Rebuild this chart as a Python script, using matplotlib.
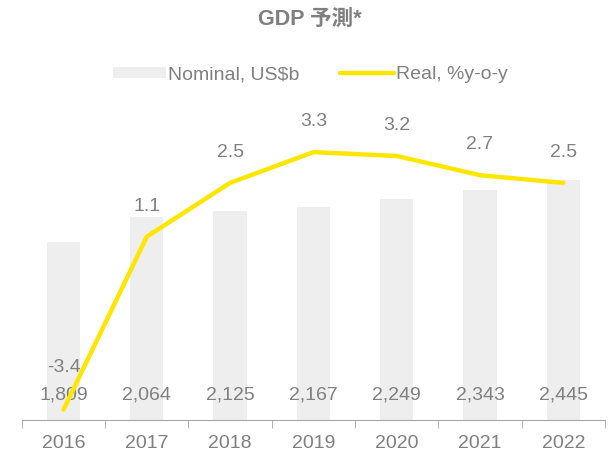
import matplotlib
matplotlib.use("Agg")
import matplotlib.pyplot as plt
import numpy as np

years = ["2016", "2017", "2018", "2019", "2020", "2021", "2022"]
nominal = [1809, 2064, 2125, 2167, 2249, 2343, 2445]
real = [-3.4, 1.1, 2.5, 3.3, 3.2, 2.7, 2.5]

grey_txt = "#808080"
bar_col = "#EEEEEE"
yellow = "#FFE600"

plt.rcParams["font.family"] = ["Liberation Sans", "Noto Sans CJK JP", "DejaVu Sans"]

fig = plt.figure(figsize=(6.08, 4.54), dpi=100)
ax = fig.add_axes([0.036, 0.075, 0.959, 0.705])
x = np.arange(len(years))

ax.bar(x, nominal, width=0.4, color=bar_col, zorder=1, label="Nominal, US$b")
ax.set_ylim(0, 3255)
ax.set_xlim(-0.5, len(years) - 0.5)
for xi, v in zip(x, nominal):
    ax.text(xi, 250, f"{v:,}", ha="center", va="center", fontsize=14, color=grey_txt, zorder=2)

# real growth on its own scale
ax2 = ax.twinx()
ax2.plot(x, real, color=yellow, lw=3.2, solid_capstyle="round", zorder=3, label="Real, %y-o-y")
ax2.set_ylim(-3.67, 4.66)
for xi, v in zip(x, real):
    off = 30 if v < 0 else 22
    ax2.annotate(f"{v:.1f}", (xi, v), xytext=(0, off), textcoords="offset points",
                 ha="center", va="center", fontsize=14, color=grey_txt)

for a in (ax, ax2):
    for s in ("top", "right", "left"):
        a.spines[s].set_visible(False)
    a.set_yticks([])
ax2.spines["bottom"].set_visible(False)
ax.spines["bottom"].set_color("#A6A6A6")
ax.set_xticks(x)
ax.set_xticklabels(years, fontsize=14, color=grey_txt)
ax.tick_params(axis="x", which="major", length=0, pad=11)
ax.set_xticks(np.arange(-0.5, len(years)), minor=True)
ax.tick_params(axis="x", which="minor", length=6, color="#A6A6A6")

fig.text(0.51, 0.958, "GDP 予測*", ha="center", va="center", fontsize=15.5,
         fontweight="bold", color="#7F7F7F")

h1, l1 = ax.get_legend_handles_labels()
h2, l2 = ax2.get_legend_handles_labels()
fig.legend(h1 + h2, l1 + l2, loc="center", bbox_to_anchor=(0.51, 0.835), ncol=2,
           frameon=False, fontsize=14, labelcolor=grey_txt, handlelength=2.75,
           handletextpad=0.1, columnspacing=2.1, handleheight=0.5)

fig.savefig("out.png", dpi=100, facecolor="white")
